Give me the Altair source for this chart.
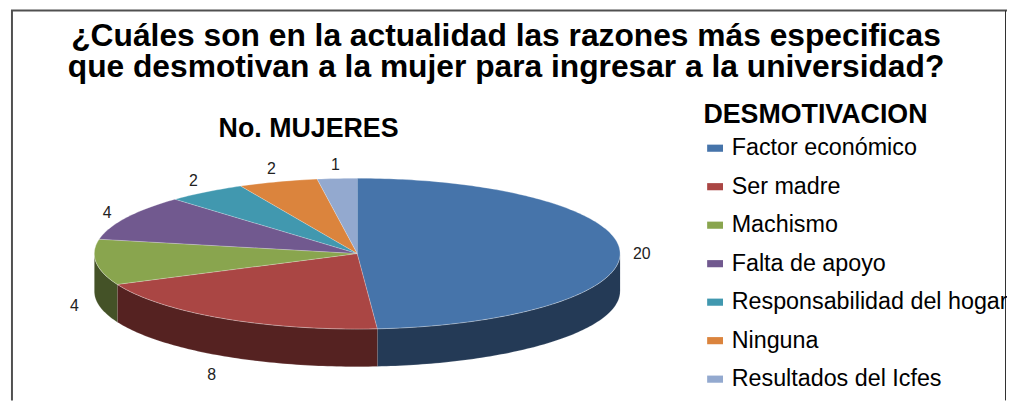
import altair as alt
import numpy as np
import pandas as pd

# ---- data ----
categories = ["Factor económico", "Ser madre", "Machismo", "Falta de apoyo",
              "Responsabilidad del hogar", "Ninguna", "Resultados del Icfes"]
values = [20, 8, 4, 4, 2, 2, 1]
top_colors = ["#4674AA", "#AA4644", "#89A54E", "#71598F", "#4198AF", "#DB843D", "#93A9CF"]
side_colors = ["#243A56", "#552221", "#445227", "#392C48", "#214C58", "#6E421F", "#4A5568"]

title_text = ("¿Cuáles son en la actualidad las razones más especificas\n"
              "que desmotivan a la mujer para ingresar a la universidad?")
pie_title = "No. MUJERES"
legend_title = "DESMOTIVACION"

# ---- layout (plot-area pixels) ----
W, H = 1007, 394
CX, CY, A, B, DEPTH = 352, 246, 265, 76, 38

total = float(sum(values))
cum = np.concatenate([[0], np.cumsum(values)]) / total * 2 * np.pi


def ell(t, dy=0.0):
    return CX + A * np.sin(t), CY - B * np.cos(t) + dy


top_rows, side_rows, lab_rows = [], [], []
for i, cat in enumerate(categories):
    s, e = cum[i], cum[i + 1]
    n = max(3, int(np.degrees(e - s)) + 2)
    ts = np.linspace(s, e, n)
    top_rows.append({"cat": cat, "k": 0, "x": CX, "y": CY})
    for k, t in enumerate(ts):
        x, y = ell(t)
        top_rows.append({"cat": cat, "k": k + 1, "x": x, "y": y})
    # visible side (front half)
    ss, ee = max(s, np.pi / 2), min(e, 3 * np.pi / 2)
    if ss < ee:
        m = max(3, int(np.degrees(ee - ss)) + 2)
        tt = np.linspace(ss, ee, m)
        k = 0
        for t in tt:
            x, y = ell(t)
            side_rows.append({"cat": cat, "k": k, "x": x, "y": y}); k += 1
        for t in tt[::-1]:
            x, y = ell(t, DEPTH)
            side_rows.append({"cat": cat, "k": k, "x": x, "y": y}); k += 1
    mid = (s + e) / 2
    lx = CX + (A + 22) * np.sin(mid)
    ly = CY + 4 - (B + 18) * np.cos(mid) + (DEPTH if np.cos(mid) < 0 else 0)
    lab_rows.append({"cat": cat, "v": values[i], "x": lx, "y": ly})

top_df = pd.DataFrame(top_rows)
side_df = pd.DataFrame(side_rows)
lab_df = pd.DataFrame(lab_rows)

X = alt.X("x:Q", scale=alt.Scale(domain=[0, W], nice=False, zero=False), axis=None)
Y = alt.Y("y:Q", scale=alt.Scale(domain=[0, H], nice=False, zero=False, reverse=True), axis=None)

sides = alt.Chart(side_df).mark_line(filled=True, stroke="#ffffff", strokeWidth=0.5,
                                     strokeOpacity=0.35).encode(
    x=X, y=Y,
    color=alt.Color("cat:N", scale=alt.Scale(domain=categories, range=side_colors), legend=None),
    order=alt.Order("k:Q"),
)

tops = alt.Chart(top_df).mark_line(filled=True, stroke="#ffffff", strokeWidth=0.6,
                                   strokeOpacity=0.5).encode(
    x=X, y=Y,
    color=alt.Color("cat:N", scale=alt.Scale(domain=categories, range=top_colors),
                    sort=categories,
                    legend=alt.Legend(
                        title=legend_title, orient="none", legendX=701, legendY=93,
                        titleFont="Liberation Sans", titleFontSize=27, titleFontWeight="bold",
                        titleColor="#000000", titlePadding=8, titleLimit=400,
                        labelFont="Liberation Sans", labelFontSize=23.5, labelColor="#000000",
                        labelOffset=5, labelLimit=400, rowPadding=13.8,
                        symbolType="M-1,-0.45L1,-0.45L1,0.45L-1,0.45Z", symbolSize=256,
                        symbolStrokeWidth=0)),
    order=alt.Order("k:Q"),
)

labels = alt.Chart(lab_df).mark_text(font="Liberation Sans Narrow, Liberation Sans",
                                     fontSize=16, color="#222222").encode(
    x=X, y=Y, text="v:Q")

one = pd.DataFrame({"a": [0]})

main_title = alt.Chart(one).mark_text(
    font="Liberation Sans", fontSize=32, fontWeight="bold", color="#000000",
    lineBreak="\n", lineHeight=31, baseline="alphabetic", align="center",
    text=title_text).encode(x=alt.value(502), y=alt.value(37))

sub = alt.Chart(one).mark_text(
    font="Liberation Sans", fontSize=27, fontWeight="bold", color="#000000",
    text=pie_title).encode(x=alt.value(303), y=alt.value(120))

frame_l = alt.Chart(one).mark_rule(color="#505050", strokeWidth=2).encode(
    x=alt.value(4), y=alt.value(1), y2=alt.value(H))
frame_t = alt.Chart(one).mark_rule(color="#505050", strokeWidth=2).encode(
    x=alt.value(3), x2=alt.value(W), y=alt.value(1))
frame_r = alt.Chart(one).mark_rule(color="#303030", strokeWidth=1).encode(
    x=alt.value(W - 1.5), y=alt.value(1), y2=alt.value(H))

chart = alt.layer(sides, tops, labels, main_title, sub, frame_l, frame_t, frame_r).resolve_scale(
    color="independent"
).properties(
    width=W, height=H,
    autosize=alt.AutoSizeParams(type="none"),
    padding={"left": 0, "right": 0, "top": 0, "bottom": 0},
).configure_view(stroke=None)

chart.save("out.html", embed_options={"renderer": "svg", "actions": False})
